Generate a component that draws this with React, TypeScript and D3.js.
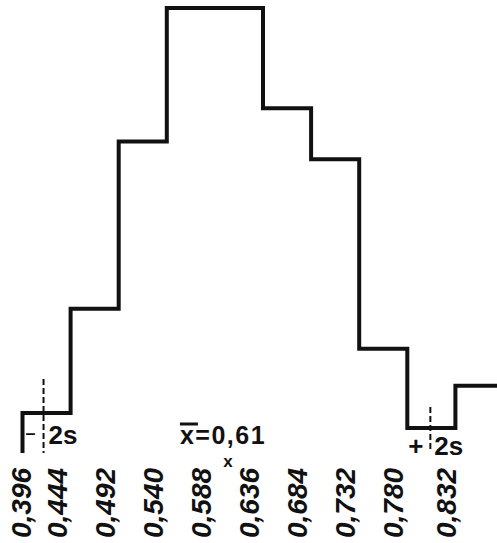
import * as d3 from 'd3'

const width = 497
const height = 543

// bin edges of the histogram (lower edge of each class)
const binStarts = [0.396, 0.444, 0.492, 0.54, 0.588, 0.636, 0.684, 0.732, 0.78, 0.828]
const binWidth = 0.048
// relative frequency, tallest class = 100
const frequencies = [9, 32.4, 70, 100, 100, 77.5, 66, 23.4, 5.6, 15.1]

const tickLabels = ['0,396', '0,444', '0,492', '0,540', '0,588', '0,636', '0,684', '0,732', '0,780', '0,832']
const tickValues = [0.396, 0.444, 0.492, 0.54, 0.588, 0.636, 0.684, 0.732, 0.78, 0.832]

const mean = 0.61
const twoS = 0.193

const font = 'Liberation Sans, Arial, sans-serif'

const x = d3.scaleLinear().domain([0.396, 0.828]).range([22.5, 455.4])
const y = d3.scaleLinear().domain([0, 100]).range([453, 8])

function App() {
  const points: [number, number][] = [[binStarts[0], 0]]
  binStarts.forEach((b, i) => points.push([b, frequencies[i]]))
  const last = binStarts.length - 1
  points.push([binStarts[last] + binWidth, frequencies[last]])

  const stepLine = d3
    .line<[number, number]>()
    .x((d) => x(d[0]))
    .y((d) => y(d[1]))
    .curve(d3.curveStepAfter)

  const lo = x(mean - twoS)
  const hi = x(mean + twoS)
  const mx = x(mean)

  return (
    <svg
      width={width}
      height={height}
      style={{ position: 'absolute', left: 0, top: 0, background: '#fff' }}
      fontFamily={font}
      fontWeight="bold"
    >
      <path d={stepLine(points) ?? ''} fill="none" stroke="#111" strokeWidth={4} />

      {/* -2s / +2s markers */}
      <line x1={lo} x2={lo} y1={379} y2={453} stroke="#111" strokeWidth={2} strokeDasharray="6,3" />
      <line x1={hi} x2={hi} y1={407} y2={451} stroke="#111" strokeWidth={2} strokeDasharray="6,3" />
      <text x={lo - 8} y={439} fontSize={18} textAnchor="end" fill="#111">–</text>
      <text x={lo + 5} y={444} fontSize={26} fill="#111">2s</text>
      <text x={hi - 7} y={455} fontSize={26} textAnchor="end" fill="#111">+</text>
      <text x={hi + 4} y={455} fontSize={26} fill="#111">2s</text>

      {/* mean */}
      <line x1={mx - 57} x2={mx - 39} y1={424} y2={424} stroke="#111" strokeWidth={3} />
      <text x={mx - 57} y={444} fontSize={25} letterSpacing={1.5} fill="#111">
        x=0,61
      </text>
      <text x={mx - 9} y={467} fontSize={17} textAnchor="middle" fill="#111">x</text>

      {/* axis labels */}
      {tickValues.map((v, i) => (
        <text
          key={tickLabels[i]}
          transform={`translate(${Math.max(21, x(v) - 14)},538) rotate(-90)`}
          dy="0.36em"
          fontSize={28}
          fontStyle="italic"
          fill="#111"
        >
          {tickLabels[i]}
        </text>
      ))}
    </svg>
  )
}

export default App
